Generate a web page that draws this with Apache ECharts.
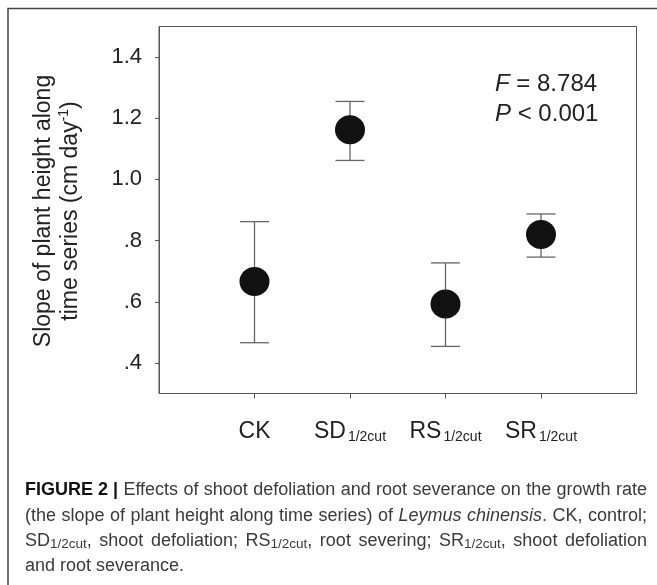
<!DOCTYPE html>
<html><head><meta charset="utf-8">
<script src="https://cdn.jsdelivr.net/npm/echarts@6/dist/echarts.min.js"></script>
<style>html,body{margin:0;padding:0;background:#fff}#c{width:657px;height:585px}</style>
</head><body><div id="c"></div>
<script>
// ---- data ----
const categories = ['CK', 'SD', 'RS', 'SR'];
const categorySubs = ['', '1/2cut', '1/2cut', '1/2cut'];
const positions = [1, 2, 3, 4];
const means = [0.666, 1.162, 0.593, 0.820];
const upper = [0.862, 1.255, 0.727, 0.887];
const lower = [0.466, 1.062, 0.454, 0.746];
const yTicks = [0.4, 0.6, 0.8, 1.0, 1.2, 1.4];
const yTickLabels = ['.4', '.6', '.8', '1.0', '1.2', '1.4'];
const yTitle = ['Slope of plant height along', 'time series (cm day', '-1', ')'];
const statF = ['F', ' = 8.784'];
const statP = ['P', ' < 0.001'];
const captionLines = [
  '{b|FIGURE 2 |} Effects of shoot defoliation and root severance on the growth rate',
  '(the slope of plant height along time series) of {i|Leymus chinensis}. CK, control;',
  'SD{s|1/2cut}, shoot defoliation; RS{s|1/2cut}, root severing; SR{s|1/2cut}, shoot defoliation',
  'and root severance.'
];
const captionJustify = [true, true, true, false];

const FONT = '"Liberation Sans", Arial, Helvetica, sans-serif';
const chart = echarts.init(document.getElementById('c'), null, {renderer: 'canvas'});

function idxOf(arr, v) { return arr.findIndex(a => Math.abs(a - v) < 1e-6); }

const captionY = [490, 516, 541.5, 566];
const CAP = 18;
const SUB = 13.5;
const CAP_LEFT = 25, CAP_WIDTH = 622;

const mctx = document.createElement('canvas').getContext('2d');
function fontFor(k) {
  const size = k === 's' ? SUB : CAP;
  return (k === 'i' ? 'italic ' : '') + (k === 'b' ? 'bold ' : '') + size + 'px ' + FONT;
}
function mw(t, k) { mctx.font = fontFor(k); return mctx.measureText(t).width; }

function buildLine(line, justify) {
  const segs = [];
  const re = /\{(\w+)\|([^}]*)\}|([^{]+)/g;
  let m;
  while ((m = re.exec(line))) { if (m[1]) segs.push([m[2], m[1]]); else segs.push([m[3], 'r']); }
  let W = 0, n = 0;
  segs.forEach(([t, k]) => { W += mw(t, k); if (k !== 'b') n += (t.match(/ /g) || []).length; });
  const extra = justify && n ? (CAP_WIDTH - W) / n : 0;
  const spW = mw(' ', 'r') + extra;
  const text = segs.map(([t, k]) => {
    if (k === 'b') return `{b|${t}}`;
    return t.split(' ').map(s => s === '' ? '' : `{${k}|${s}}`).join('{sp| }');
  }).join('');
  return {text, spW};
}

const captionGraphics = captionLines.map((line, k) => {
  const {text, spW} = buildLine(line, captionJustify[k]);
  return {
    type: 'text', x: CAP_LEFT, y: captionY[k], style: {
      text, fontSize: CAP, lineHeight: 20, fontFamily: FONT, fill: '#3a3a3a', align: 'left', verticalAlign: 'middle',
      rich: {
        r: {fontSize: CAP, fontFamily: FONT, fill: '#3a3a3a', lineHeight: 20},
        sp: {fontSize: CAP, fontFamily: FONT, fill: '#3a3a3a', lineHeight: 20, width: spW},
        b: {fontWeight: 'bold', fontSize: CAP, fontFamily: FONT, fill: '#111', lineHeight: 20},
        i: {fontStyle: 'italic', fontSize: CAP, fontFamily: FONT, fill: '#3a3a3a', lineHeight: 20},
        s: {fontSize: SUB, fontFamily: FONT, fill: '#3a3a3a', lineHeight: 12, verticalAlign: 'bottom'}
      }
    }
  };
});

const option = {
  animation: false,
  backgroundColor: '#fff',
  grid: {left: 159, right: 20.5, top: 26.5, bottom: 191.5, show: true, borderColor: '#555', borderWidth: 1, backgroundColor: 'transparent'},
  xAxis: {
    type: 'value', min: 0, max: 5,
    axisLine: {show: true, onZero: false, lineStyle: {color: '#555', width: 1}},
    axisTick: {show: true, customValues: positions, length: 5, lineStyle: {color: '#555'}},
    splitLine: {show: false},
    axisLabel: {
      customValues: positions, margin: 25, fontSize: 23, fontFamily: FONT, color: '#222',
      formatter: v => {
        const i = idxOf(positions, v);
        if (i < 0) return '';
        return categorySubs[i] ? `{m|${categories[i]}}{s|${categorySubs[i]}}` : `{m|${categories[i]}}`;
      },
      rich: {
        m: {fontSize: 23, fontFamily: FONT, color: '#222', lineHeight: 26},
        s: {fontSize: 14, fontFamily: FONT, color: '#222', lineHeight: 14, verticalAlign: 'bottom', padding: [0, 0, 0, 2]}
      }
    }
  },
  yAxis: {
    type: 'value', min: 0.3, max: 1.5,
    axisLine: {show: true, lineStyle: {color: '#555', width: 1}},
    axisTick: {show: true, customValues: yTicks, length: 4, lineStyle: {color: '#555'}},
    splitLine: {show: false},
    axisLabel: {
      customValues: yTicks, margin: 17, fontSize: 22, fontFamily: FONT, color: '#222',
      formatter: v => { const i = idxOf(yTicks, v); return i < 0 ? '' : yTickLabels[i]; }
    }
  },
  series: [
    {
      type: 'custom',
      data: positions.map((p, i) => [p, lower[i], upper[i]]),
      encode: {x: 0, y: [1, 2]},
      z: 2,
      renderItem: (params, api) => {
        const x = api.value(0);
        const lo = api.coord([x, api.value(1)]);
        const hi = api.coord([x, api.value(2)]);
        const h = 14.5;
        const st = {stroke: '#666', lineWidth: 1.3};
        return {type: 'group', children: [
          {type: 'line', shape: {x1: hi[0], y1: hi[1], x2: lo[0], y2: lo[1]}, style: st},
          {type: 'line', shape: {x1: hi[0] - h, y1: hi[1], x2: hi[0] + h, y2: hi[1]}, style: st},
          {type: 'line', shape: {x1: lo[0] - h, y1: lo[1], x2: lo[0] + h, y2: lo[1]}, style: st}
        ]};
      }
    },
    {
      type: 'scatter', z: 5,
      data: positions.map((p, i) => [p, means[i]]),
      symbol: 'circle', symbolSize: [30, 29],
      itemStyle: {color: '#111', opacity: 1}
    }
  ],
  graphic: [
    {type: 'polyline', silent: true, shape: {points: [[8, 585], [8, 8.5], [657, 8.5]]}, style: {stroke: '#444', lineWidth: 1.5, fill: null}},
    {type: 'text', x: 495, y: 84, style: {
      text: `{i|${statF[0]}}${statF[1]}`, fontSize: 24, fontFamily: FONT, fill: '#222', align: 'left', verticalAlign: 'middle',
      rich: {i: {fontStyle: 'italic', fontSize: 24, fontFamily: FONT, fill: '#222'}}}},
    {type: 'text', x: 495, y: 114, style: {
      text: `{i|${statP[0]}}${statP[1]}`, fontSize: 24, fontFamily: FONT, fill: '#222', align: 'left', verticalAlign: 'middle',
      rich: {i: {fontStyle: 'italic', fontSize: 24, fontFamily: FONT, fill: '#222'}}}},
    {type: 'text', x: 57.5, y: 211, rotation: Math.PI / 2, style: {
      text: `${yTitle[0]}\n${yTitle[1]}{sup|${yTitle[2]}}${yTitle[3]}`,
      fontSize: 23, lineHeight: 27, fontFamily: FONT, fill: '#222', align: 'center', verticalAlign: 'middle',
      rich: {sup: {fontSize: 14, lineHeight: 10, verticalAlign: 'top', fontFamily: FONT, fill: '#222'}}}}
  ].concat(captionGraphics)
};
chart.setOption(option);
</script>
</body></html>
